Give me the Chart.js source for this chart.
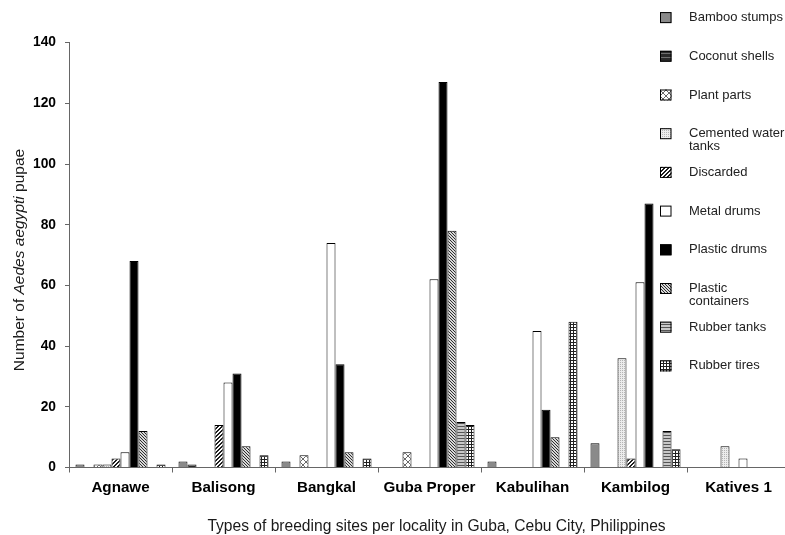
<!DOCTYPE html>
<html><head><meta charset="utf-8">
<script src="https://cdn.jsdelivr.net/npm/chart.js@4/dist/chart.umd.min.js"></script>
<style>
html,body{margin:0;padding:0;overflow:hidden;background:#fff;width:785px;height:535px}
#wrap{width:800px;height:535px;position:relative}
</style>
</head><body><div id="wrap"><canvas id="c" width="800" height="535"></canvas></div>
<script>
const categories = ['Agnawe','Balisong','Bangkal','Guba Proper','Kabulihan','Kambilog','Katives 1'];
const bambooStumps       = [1, 2, 2, 0, 2, 8, 0];
const coconutShells      = [0, 1, 0, 0, 0, 0, 0];
const plantParts         = [1, 0, 4, 5, 0, 0, 0];
const cementedWaterTanks = [1, 0, 0, 0, 0, 36, 7];
const discarded          = [3, 14, 0, 0, 0, 3, 0];
const metalDrums         = [5, 28, 74, 62, 45, 61, 3];
const plasticDrums       = [68, 31, 34, 127, 19, 87, 0];
const plasticContainers  = [12, 7, 5, 78, 10, 0, 0];
const rubberTanks        = [0, 0, 0, 15, 0, 12, 0];
const rubberTires        = [1, 4, 3, 14, 48, 6, 0];
const seriesLabels = ['Bamboo stumps','Coconut shells','Plant parts','Cemented water tanks','Discarded','Metal drums','Plastic drums','Plastic containers','Rubber tanks','Rubber tires'];
const yTicks = [0, 20, 40, 60, 80, 100, 120, 140];
const yTitleParts = [['Number of ', false], ['Aedes aegypti', true], [' pupae', false]];
const xTitle = 'Types of breeding sites per locality in Guba, Cebu City, Philippines';

const FONT = "'Liberation Sans', Arial, sans-serif";

function pat(size, draw) {
  const c = document.createElement('canvas');
  c.width = size; c.height = size;
  const g = c.getContext('2d');
  draw(g, size);
  return g.createPattern(c, 'repeat');
}
const fills = [
  '#8a8a8a',
  pat(4, (g, s) => { g.fillStyle = '#2a2a2a'; g.fillRect(0,0,s,s); g.fillStyle = '#707070'; g.fillRect(0,1,s,1); }),
  pat(6, (g, s) => { g.fillStyle = '#fff'; g.fillRect(0,0,s,s); g.fillStyle = '#6a6a6a';
    for (let i = 0; i < s; i++) { g.fillRect(i, i, 1, 1); g.fillRect(s-1-i, i, 1, 1); } }),
  pat(2, (g, s) => { g.fillStyle = '#ececec'; g.fillRect(0,0,s,s); g.fillStyle = '#b4b4b4'; g.fillRect(0,0,1,1); }),
  pat(4, (g, s) => { g.fillStyle = '#fff'; g.fillRect(0,0,s,s); g.fillStyle = '#1e1e1e';
    for (let y = 0; y < s; y++) { g.fillRect((s-1-y+s)%s, y, 1, 1); g.fillRect((s-y+s)%s, y, 1, 1); } }),
  '#ffffff',
  '#000000',
  pat(3, (g, s) => { g.fillStyle = '#d8d8d8'; g.fillRect(0,0,s,s); g.fillStyle = '#2e2e2e';
    for (let y = 0; y < s; y++) { g.fillRect(y%s, y, 1, 1); } }),
  pat(3, (g, s) => { g.fillStyle = '#c8c8c8'; g.fillRect(0,0,s,s); g.fillStyle = '#555'; g.fillRect(0,0,s,1); }),
  pat(3, (g, s) => { g.fillStyle = '#fff'; g.fillRect(0,0,s,s); g.fillStyle = '#222'; g.fillRect(0,0,s,1); g.fillRect(0,0,1,s); })
];

const seriesData = [bambooStumps, coconutShells, plantParts, cementedWaterTanks, discarded, metalDrums, plasticDrums, plasticContainers, rubberTanks, rubberTires];

const datasets = seriesData.map((d, i) => ({
  label: seriesLabels[i],
  data: d,
  backgroundColor: fills[i],
  borderColor: '#000',
  borderWidth: 1,
  categoryPercentage: 0.874,
  barPercentage: 1.0
}));

function wrapText(ctx, text, maxW) {
  const words = text.split(' '); const lines = []; let cur = '';
  words.forEach(w => {
    const t = cur ? cur + ' ' + w : w;
    if (ctx.measureText(t).width > maxW && cur) { lines.push(cur); cur = w; } else cur = t;
  });
  if (cur) lines.push(cur);
  return lines;
}

const decor = {
  id: 'decor',
  afterDraw(chart) {
    const ctx = chart.ctx;
    ctx.save();
    // legend
    ctx.font = '13px ' + FONT;
    ctx.textBaseline = 'middle';
    ctx.textAlign = 'left';
    chart.data.datasets.forEach((ds, i) => {
      const cy = 17.6 + i * 38.7;
      ctx.fillStyle = ds.backgroundColor;
      ctx.fillRect(660, cy - 5.5, 11.5, 11);
      ctx.strokeStyle = '#000'; ctx.lineWidth = 1;
      ctx.strokeRect(660.5, cy - 5, 10.5, 10);
      ctx.fillStyle = '#222';
      wrapText(ctx, ds.label, 99).forEach((ln, k) => ctx.fillText(ln, 689, cy + k * 12.7));
    });
    // y title
    ctx.save();
    ctx.translate(24, 260);
    ctx.rotate(-Math.PI / 2);
    ctx.textBaseline = 'alphabetic';
    const fs = 15.5;
    let total = 0;
    yTitleParts.forEach(([t, it]) => { ctx.font = (it ? 'italic ' : '') + fs + 'px ' + FONT; total += ctx.measureText(t).width; });
    let x = -total / 2;
    ctx.fillStyle = '#1a1a1a';
    yTitleParts.forEach(([t, it]) => { ctx.font = (it ? 'italic ' : '') + fs + 'px ' + FONT; ctx.fillText(t, x, 0); x += ctx.measureText(t).width; });
    ctx.restore();
    // x title
    ctx.font = '15.6px ' + FONT;
    ctx.textAlign = 'center';
    ctx.textBaseline = 'alphabetic';
    ctx.fillStyle = '#1a1a1a';
    ctx.fillText(xTitle, 436.5, 531);
    ctx.restore();
  }
};

new Chart(document.getElementById('c'), {
  type: 'bar',
  data: { labels: categories, datasets },
  plugins: [decor],
  options: {
    responsive: false,
    animation: false,
    layout: { padding: { top: 42.6, right: 10, left: 0, bottom: 0 } },
    plugins: { legend: { display: false }, tooltip: { enabled: false }, title: { display: false } },
    scales: {
      x: {
        afterFit(s) { s.height = 535 - 467.5; },
        ticks: { font: { family: FONT, size: 15.2, weight: 'bold' }, color: '#000', padding: 6, maxRotation: 0, autoSkip: false },
        grid: { offset: true, drawOnChartArea: false, drawTicks: true, tickLength: 5, color: '#666' },
        border: { color: '#666', width: 1 }
      },
      y: {
        min: 0, max: 140,
        afterFit(s) { s.width = 69; },
        afterBuildTicks(s) { s.ticks = yTicks.map(v => ({ value: v })); },
        ticks: { font: { family: FONT, size: 13.8, weight: 'bold' }, color: '#000', padding: 9 },
        grid: { drawOnChartArea: false, drawTicks: true, tickLength: 4, color: '#666' },
        border: { color: '#666', width: 1 }
      }
    }
  }
});
</script>
</body></html>
